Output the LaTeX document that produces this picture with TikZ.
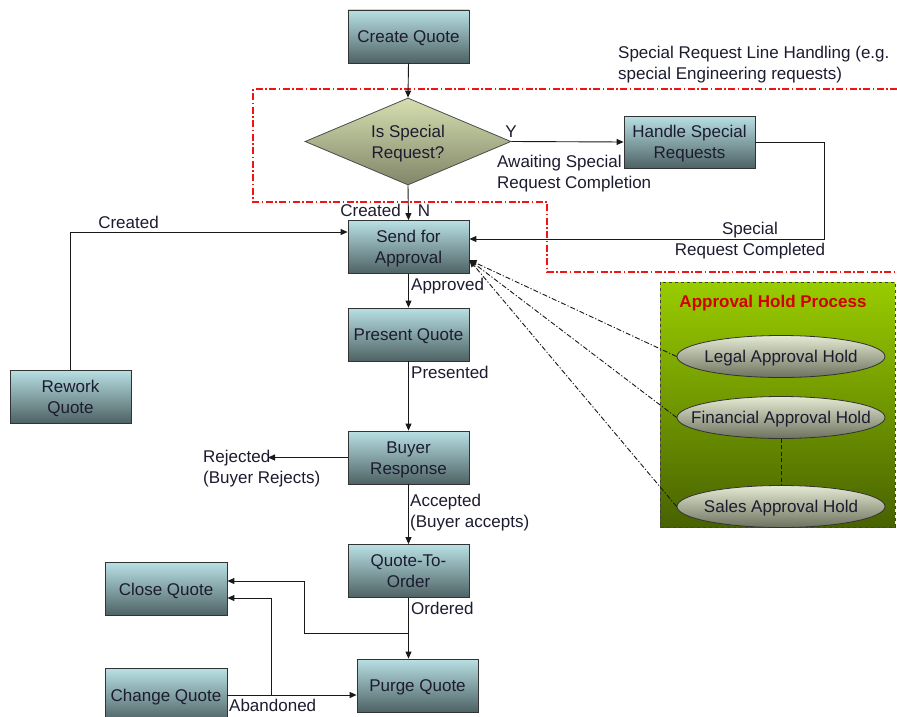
\documentclass[tikz,border=0pt]{standalone}
\usepackage{fontspec}
\setmainfont{Liberation Sans}
\usetikzlibrary{shapes.geometric,arrows.meta,calc}
\definecolor{boxtop}{RGB}{184,224,228}
\definecolor{boxbot}{RGB}{78,98,100}
\definecolor{diatop}{RGB}{214,222,176}
\definecolor{diabot}{RGB}{128,134,104}
\definecolor{elltop}{RGB}{228,234,210}
\definecolor{ellbot}{RGB}{108,114,94}
\definecolor{grtop}{RGB}{153,204,0}
\definecolor{grbot}{RGB}{72,98,0}
\definecolor{txt}{RGB}{28,28,48}
\definecolor{redline}{RGB}{240,20,20}
\definecolor{holdred}{RGB}{210,0,0}
\begin{document}
\begin{tikzpicture}[x=1pt,y=-1pt,font=\fontsize{17}{21}\selectfont]
\tikzset{
  oneline/.style={text height=12.2pt,text depth=0pt},
  twoline/.style={text height=33.2pt,text depth=0pt},
  proc/.style={draw=black!80,line width=0.8pt,top color=boxtop,bottom color=boxbot,
    minimum width=121pt,minimum height=53pt,inner sep=0pt,align=center,text=txt},
  decision/.style={diamond,draw=black!70,line width=0.8pt,top color=diatop,bottom color=diabot,
    minimum width=206pt,minimum height=87pt,aspect=2.37,inner sep=0pt,align=center,text=txt},
  hold/.style={ellipse,draw=black!80,line width=0.8pt,top color=elltop,bottom color=ellbot,
    minimum width=208pt,minimum height=42pt,inner xsep=-30pt,inner ysep=0pt,text=txt,oneline},
  arr/.style={-{Triangle[length=7pt,width=6pt]},line width=0.9pt,black!90},
  lbl/.style={inner sep=0pt,text=txt},
  redbound/.style={redline,line width=1.2pt,dash pattern=on 7pt off 2.5pt on 1.5pt off 2.5pt},
  holdlink/.style={black!70,line width=0.8pt,dash pattern=on 5pt off 2pt on 1.2pt off 2pt},
  holdbox/.style={draw=black!75,line width=0.9pt,dashed,top color=grtop,bottom color=grbot},
  holddash/.style={black!90,line width=1pt,dash pattern=on 4pt off 2.5pt}
}
\useasboundingbox (0,0) rectangle (897,717);
\fill[white] (0,0) rectangle (897,717);

% special request region boundary
\draw[redbound] (897,89) -- (253,89) -- (253,202) -- (547,202) -- (547,272) -- (897,272);

% approval hold process area
\path[holdbox] (660,282) rectangle (895,527);
\node[lbl,oneline,text=holdred,font=\fontsize{17}{21}\selectfont\bfseries] (holdtitle) at (773,301) {Approval Hold Process};

% nodes
\node[proc,oneline] (create) at (408.5,36.5) {Create Quote};
\node[decision,twoline] (isspecial) at (408,141.5) {Is Special\\Request?};
\node[proc,twoline,minimum width=131pt,minimum height=52pt] (handle) at (689.5,142) {Handle Special\\Requests};
\node[proc,twoline] (send) at (408.5,247) {Send for\\Approval};
\node[proc,oneline] (present) at (408.5,334.5) {Present Quote};
\node[proc,twoline] (rework) at (70.5,396.5) {Rework\\Quote};
\node[proc,twoline] (buyer) at (408.5,457.5) {Buyer\\Response};
\node[proc,twoline] (qto) at (408.5,571) {Quote-To-\\Order};
\node[proc,oneline,minimum width=122pt] (close) at (166,589) {Close Quote};
\node[proc,oneline,minimum width=122pt] (change) at (166,695) {Change Quote};
\node[proc,oneline] (purge) at (417.5,685.5) {Purge Quote};

\node[hold] (legal) at (781,356.5) {Legal Approval Hold};
\node[hold] (financial) at (781,417.5) {Financial Approval Hold};
\node[hold] (sales) at (781,506.5) {Sales Approval Hold};

% labels
\node[lbl,twoline,anchor=west,align=left] (srlh) at (618,62.5) {Special Request Line Handling (e.g.\\special Engineering requests)};
\node[lbl,oneline] (ylbl) at (511,131) {Y};
\node[lbl,twoline,anchor=west,align=left] (awaiting) at (497,171.5) {Awaiting Special\\Request Completion};
\node[lbl,oneline,anchor=east] (created1) at (401,210) {Created};
\node[lbl,oneline] (nlbl) at (424,210) {N};
\node[lbl,twoline,align=center] (srcompl) at (750,238.5) {Special\\Request Completed};
\node[lbl,oneline] (created2) at (128.5,222) {Created};
\node[lbl,oneline,anchor=west] (approved) at (411,284) {Approved};
\node[lbl,oneline,anchor=west] (presented) at (411,372) {Presented};
\node[lbl,twoline,anchor=west,align=left] (rejected) at (203,467) {Rejected\\(Buyer Rejects)};
\node[lbl,twoline,anchor=west,align=left] (accepted) at (410,510.5) {Accepted\\(Buyer accepts)};
\node[lbl,oneline,anchor=west] (ordered) at (411,608) {Ordered};
\node[lbl,oneline,anchor=west] (abandoned) at (229,705) {Abandoned};

% coordinates
\coordinate (rejend) at (268,457.5);
\coordinate (j1) at (408.5,633);
\coordinate (j2) at (271,695);
\coordinate (holdin) at ([yshift=-13pt]send.east);

% connectors
\draw[arr] (create.south) -- (isspecial.north);
\draw[arr] (isspecial.east) -- (handle.west);
\draw[arr] (isspecial.south) -- (send.north);
\draw[arr] (handle.east) -- ++(69,0) |- ([yshift=8pt]send.east);
\draw[arr] (rework.north) |- ([yshift=15pt]send.west);
\draw[arr] (send.south) -- (present.north);
\draw[arr] (present.south) -- (buyer.north);
\draw[arr] (buyer.west) -- (rejend);
\draw[arr] (buyer.south) -- (qto.north);
\draw[arr] (qto.south) -- (qto.south |- purge.north);
\draw[arr] (j1) -- (304,633) |- ([yshift=8pt]close.east);
\draw[arr] (change.east) -- (change.east -| purge.west);
\draw[arr] (j2) |- ([yshift=-9pt]close.east);

\draw[holdlink,arr] (legal.west) -- (holdin);
\draw[holdlink,arr] (financial.west) -- (holdin);
\draw[holdlink,arr] (sales.west) -- (holdin);
\draw[holddash] (financial.south) -- (sales.north);
\end{tikzpicture}
\end{document}
